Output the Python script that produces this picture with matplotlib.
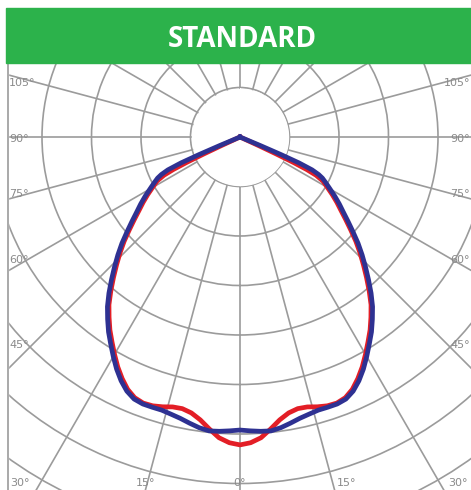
import numpy as np
import matplotlib
matplotlib.use("Agg")
import matplotlib.pyplot as plt
from matplotlib.patches import Rectangle
from matplotlib.lines import Line2D

# photometric curves: angle from nadir (deg) and intensity in grid rings
blue_ang = [0, 2, 4, 6, 8, 10, 12, 14, 16, 18, 20, 22, 24, 26, 28, 30, 32, 34, 36, 38,
            40, 42, 44, 46, 48, 50, 52, 54, 56, 58, 60, 62, 63.5, 64.5, 65.5, 66.3,
            66.8, 67.2, 67.5]
blue_vals = [5.92, 5.94, 5.96, 5.97, 5.93, 5.87, 5.81, 5.77, 5.74, 5.74, 5.74, 5.71,
             5.62, 5.48, 5.31, 5.12, 4.93, 4.75, 4.55, 4.35, 4.12, 3.88, 3.65, 3.43,
             3.21, 2.98, 2.77, 2.58, 2.42, 2.26, 2.10, 1.96, 1.86, 1.76, 1.60, 1.30,
             0.90, 0.45, 0.0]
red_ang = [0, 2, 4, 6, 8, 10, 12, 14, 16, 18, 20, 22, 24, 26, 28, 30, 32, 34, 36, 38,
           40, 42, 44, 46, 48, 50, 52, 54, 56, 58, 60, 62, 63.3, 64.0, 64.5, 64.9,
           65.2, 65.4]
red_vals = [6.22, 6.18, 6.09, 5.93, 5.77, 5.66, 5.61, 5.62, 5.67, 5.71, 5.72, 5.68,
            5.58, 5.43, 5.26, 5.07, 4.88, 4.70, 4.50, 4.30, 4.06, 3.82, 3.59, 3.37,
            3.15, 2.92, 2.71, 2.52, 2.36, 2.20, 2.04, 1.90, 1.72, 1.50, 1.20, 0.80,
            0.40, 0.0]

side_labels = ["105°", "90°", "75°", "60°", "45°"]
bottom_labels = ["30°", "15°", "0°", "15°", "30°"]
title = "STANDARD"

W, H = 471, 490
cx, cy = 240, 137       # pole position in pixels (from top-left)
unit = 49.5             # pixels per ring
rmax = 9
R = rmax * unit

fig = plt.figure(figsize=(W / 100, H / 100), dpi=100)

ax = fig.add_axes([(cx - R) / W, (H - cy - R) / H, 2 * R / W, 2 * R / H],
                  projection="polar")
ax.set_theta_zero_location("S")
ax.set_ylim(0, rmax)
ax.set_xticks(np.deg2rad(np.arange(0, 360, 15)))
ax.set_xticklabels([])
ax.set_yticks(np.arange(1, rmax + 1))
ax.set_yticklabels([])
ax.grid(color="#9b9b9b", lw=1.2)
ax.spines["polar"].set_visible(False)

# blank disc in the middle
t = np.linspace(0, 2 * np.pi, 300)
ax.fill_between(t, 0, 0.97, color="white", zorder=1.6)


def mirrored(ang, vals):
    a = np.deg2rad(np.array(ang))
    v = np.array(vals)
    return np.concatenate([-a[::-1], a[1:]]), np.concatenate([v[::-1], v[1:]])


th_r, r_r = mirrored(red_ang, red_vals)
th_b, r_b = mirrored(blue_ang, blue_vals)
ax.plot(th_r, r_r, color="#e31e26", lw=3.4, zorder=3, solid_joinstyle="round")
ax.plot(th_b, r_b, color="#2e3192", lw=3.4, zorder=4, solid_joinstyle="round")

# white margins and frame
fig.add_artist(Rectangle((0, 0), 7.5 / W, 1, transform=fig.transFigure,
                         color="white", zorder=5))
fig.add_artist(Rectangle((0, 1 - 10 / H), 1, 10 / H, transform=fig.transFigure,
                         color="white", zorder=5))
fig.add_artist(Line2D([8 / W, 8 / W], [0, 1 - 60 / H], transform=fig.transFigure,
                      color="#9b9b9b", lw=1.2, zorder=6))

# banner
fig.add_artist(Rectangle((6 / W, 1 - 63 / H), 1, 55 / H, transform=fig.transFigure,
                         color="#2cb24b", zorder=7))
fig.text(242 / W, 1 - 47 / H, title, color="white", fontsize=20, fontweight="bold",
         family="Open Sans", ha="center", va="baseline", zorder=8)

# angle labels
side_y = [83, 139, 194, 260, 345]
for lab, y in zip(side_labels, side_y):
    fig.text(9 / W, 1 - y / H, lab, color="#8a8a8a", fontsize=8, ha="left",
             va="center", zorder=8)
    fig.text(470 / W, 1 - y / H, lab, color="#8a8a8a", fontsize=8, ha="right",
             va="center", zorder=8)
bottom_x = [20, 146, 240, 347, 458]
for lab, x in zip(bottom_labels, bottom_x):
    fig.text(x / W, 1 - 483 / H, lab, color="#8a8a8a", fontsize=8, ha="center",
             va="center", zorder=8)

fig.savefig("out.png", dpi=100, facecolor="white")
